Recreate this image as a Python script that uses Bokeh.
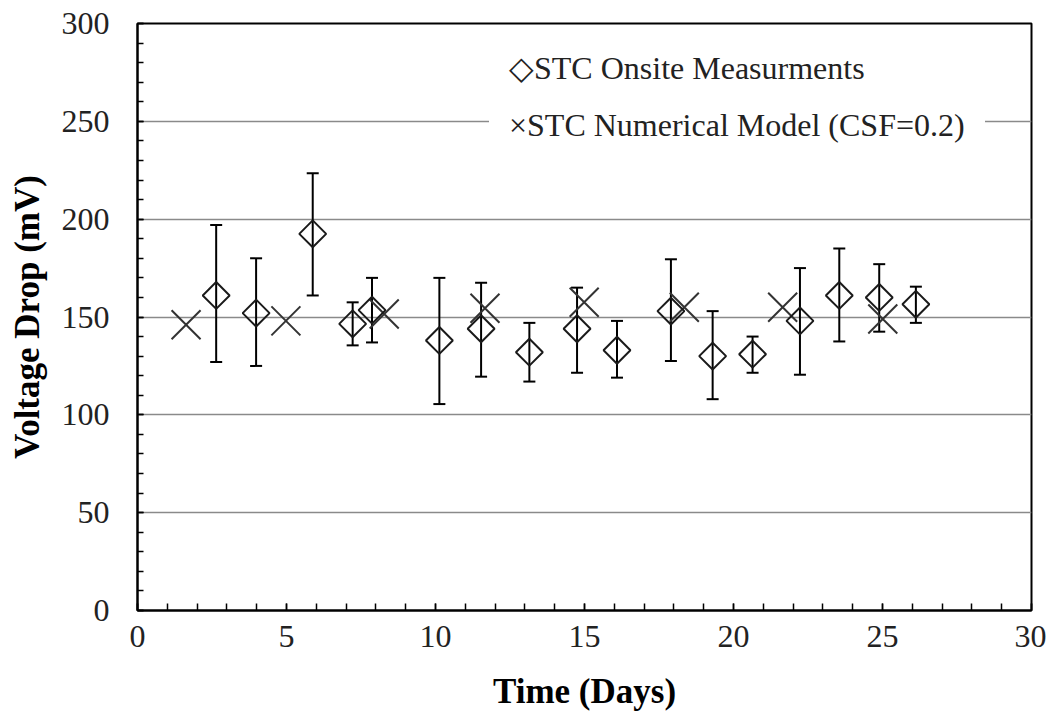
import math
from bokeh.plotting import figure
from bokeh.models import (Range1d, FixedTicker, Whisker, TeeHead, ColumnDataSource,
                          Legend, LegendItem)
from bokeh.embed import file_html
from bokeh.resources import INLINE

# ---- data ----
days_meas = [2.64, 3.98, 5.88, 7.22, 7.87, 10.13, 11.53, 13.15, 14.75, 16.09,
             17.90, 19.30, 20.64, 22.23, 23.55, 24.89, 26.12]
volt_meas = [161.0, 152.0, 192.5, 146.5, 153.5, 138.0, 144.0, 132.0, 144.0, 133.0,
             153.0, 130.0, 131.0, 148.0, 161.0, 160.0, 156.5]
volt_upper = [197.0, 180.0, 223.5, 157.5, 170.0, 170.0, 167.5, 147.0, 165.0, 148.0,
              179.5, 153.0, 140.0, 175.0, 185.0, 177.0, 165.5]
volt_lower = [127.0, 125.0, 161.0, 135.5, 137.0, 105.5, 119.5, 117.0, 121.5, 119.0,
              127.5, 108.0, 121.5, 120.5, 137.5, 142.5, 147.0]

days_model = [1.63, 4.98, 8.28, 11.66, 14.99, 18.35, 21.65, 25.01]
volt_model = [146.0, 148.0, 151.5, 154.5, 157.5, 155.0, 155.0, 149.0]

x_ticks = [0, 5, 10, 15, 20, 25, 30]
x_minor_ticks = list(range(0, 31))
y_ticks = [0, 50, 100, 150, 200, 250, 300]
y_minor_ticks = list(range(0, 301, 10))

label_meas = "\u25c7STC Onsite Measurments"
label_model = "\u00d7STC Numerical Model (CSF=0.2)"
x_title = "Time (Days)"
y_title = "Voltage Drop (mV)"

FONT = "Liberation Serif"

p = figure(width=1046, height=715, x_range=Range1d(0, 30), y_range=Range1d(0, 300),
           output_backend="svg", toolbar_location=None,
           min_border_left=137, min_border_right=15, min_border_top=23,
           min_border_bottom=105)

p.outline_line_color = "black"
p.outline_line_width = 2
p.background_fill_color = "white"

p.xgrid.visible = False
p.ygrid.ticker = FixedTicker(ticks=y_ticks)
p.ygrid.grid_line_color = "#8a8a8a"
p.ygrid.grid_line_width = 1.5

p.xaxis.ticker = FixedTicker(ticks=x_ticks, minor_ticks=x_minor_ticks)
p.yaxis.ticker = FixedTicker(ticks=y_ticks, minor_ticks=y_minor_ticks)

for ax in (p.xaxis, p.yaxis):
    ax.axis_line_color = "black"
    ax.axis_line_width = 2
    ax.major_tick_line_color = "black"
    ax.minor_tick_line_color = "black"
    ax.major_tick_line_width = 1.5
    ax.minor_tick_line_width = 1.5
    ax.major_tick_out = 0
    ax.minor_tick_out = 0
    ax.major_label_text_font = FONT
    ax.major_label_text_font_size = "32px"
    ax.major_label_text_color = "#222222"
    ax.axis_label_text_font = FONT
    ax.axis_label_text_font_style = "bold"
    ax.axis_label_text_color = "black"

p.xaxis.major_tick_in = 7
p.xaxis.minor_tick_in = 7
p.yaxis.major_tick_in = 6
p.yaxis.minor_tick_in = 6

p.xaxis.axis_label = x_title
p.yaxis.axis_label = y_title
p.xaxis.axis_label_text_font_size = "35px"
p.yaxis.axis_label_text_font_size = "35px"
p.xaxis.major_label_standoff = 15
p.xaxis.axis_label_standoff = 22
p.yaxis.major_label_standoff = 28
p.yaxis.axis_label_standoff = 12

src = ColumnDataSource(dict(x=days_meas, y=volt_meas, upper=volt_upper, lower=volt_lower))

r_model = p.scatter(days_model, volt_model, marker="x", size=41,
                    line_color="#333333", line_width=2)

whisker = Whisker(source=src, base="x", upper="upper", lower="lower", dimension="height",
                  line_color="black", line_width=2,
                  upper_head=TeeHead(size=12, line_width=2, line_color="black"),
                  lower_head=TeeHead(size=12, line_width=2, line_color="black"))
p.add_layout(whisker)

r_meas = p.scatter("x", "y", source=src, marker="square", angle=math.pi / 4, size=19,
                   fill_alpha=0, line_color="#1a1a1a", line_width=2)

# legend symbols are written as characters (as in the reference); glyph boxes stay empty
dummy_src = ColumnDataSource(dict(x=[], y=[]))
r_leg1 = p.scatter("x", "y", source=dummy_src, line_alpha=0, fill_alpha=0)
r_leg2 = p.scatter("x", "y", source=dummy_src, line_alpha=0, fill_alpha=0)

legend = Legend(items=[LegendItem(label=label_meas, renderers=[r_leg1]),
                       LegendItem(label=label_model, renderers=[r_leg2])],
                location=(352, 445), glyph_width=0, glyph_height=40,
                label_standoff=0, spacing=17, padding=20, margin=0,
                border_line_alpha=0, background_fill_color="white",
                background_fill_alpha=1, label_text_font=FONT,
                label_text_font_size="32px", label_text_color="#222222")
p.add_layout(legend)

open("out.html", "w").write(file_html(p, INLINE))
